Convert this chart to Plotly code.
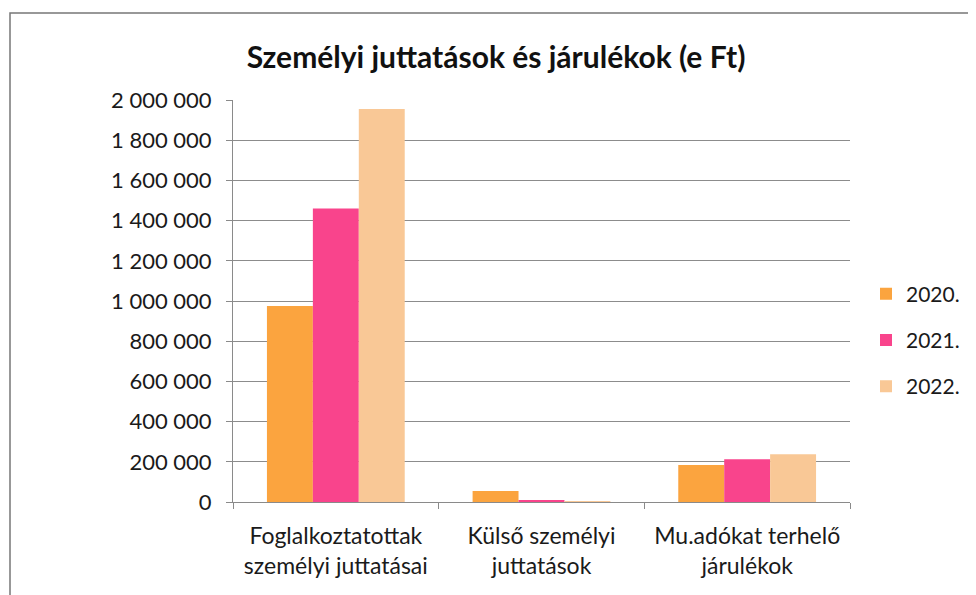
import plotly.graph_objects as go

categories = ["Foglalkoztatottak<br>személyi juttatásai", "Külső személyi<br>juttatások", "Mu.adókat terhelő<br>járulékok"]
years = ["2020.", "2021.", "2022."]
v2020 = [975000, 55000, 184000]
v2021 = [1460000, 8000, 213000]
v2022 = [1955000, 4000, 238000]
colors = ["#FBA43F", "#F9448C", "#F9C896"]
yticks = [0, 200000, 400000, 600000, 800000, 1000000, 1200000, 1400000, 1600000, 1800000, 2000000]

fig = go.Figure()
for name, vals, c in zip(years, [v2020, v2021, v2022], colors):
    fig.add_trace(go.Bar(x=categories, y=vals, name=name, legendgroup=name,
                         marker=dict(color=c, line=dict(width=0))))

# page offset of 8px (body margin)
OFF = 8
PL, PR, PT, PB = 233, 850, 100, 502  # plot area in page pixels
W, H = 976, 595
font_family = "Lato, Open Sans, sans-serif"
fig.update_layout(
    width=W, height=H,
    margin=dict(l=PL - OFF, r=W + OFF - PR, t=PT - OFF, b=H + OFF - PB),
    paper_bgcolor="white", plot_bgcolor="white",
    separators=", ",
    barmode="group", bargap=0.33, bargroupgap=0,
    font=dict(family=font_family, size=22, color="#1a1a1a"),
    title=dict(text="<b>Személyi juttatások és járulékok (e Ft)</b>", x=0.5, xanchor="center",
               y=1 - (57 - OFF) / H, yanchor="middle", font=dict(size=30, family=font_family, color="#111")),
    legend=dict(x=1 + (866 - PR) / (PR - PL), xanchor="left", y=(PB - 340) / (PB - PT), yanchor="middle",
                font=dict(size=21), traceorder="grouped", tracegroupgap=16, bgcolor="rgba(0,0,0,0)"),
    xaxis=dict(showline=True, linecolor="#8a8a8a", linewidth=1, ticks="outside", tickson="boundaries",
               ticklen=6, tickcolor="#8a8a8a", showgrid=False, tickfont=dict(size=23), ticklabelstandoff=13),
    yaxis=dict(range=[0, 2000000], tickvals=yticks, tickformat=",d", showgrid=True, gridcolor="#8c8c8c",
               gridwidth=1, showline=True, linecolor="#8a8a8a", ticks="outside", ticklen=6,
               tickcolor="#8a8a8a", zeroline=False, tickfont=dict(size=22), ticklabelstandoff=10),
    shapes=[dict(type="rect", xref="paper", yref="paper",
                 x0=(10 - PL) / (PR - PL), x1=(1000 - PL) / (PR - PL),
                 y0=(PB - 620) / (PB - PT), y1=(PB - 13) / (PB - PT),
                 line=dict(color="#777", width=1.5), fillcolor="rgba(0,0,0,0)", layer="below")],
)
fig.write_html("out.html")
